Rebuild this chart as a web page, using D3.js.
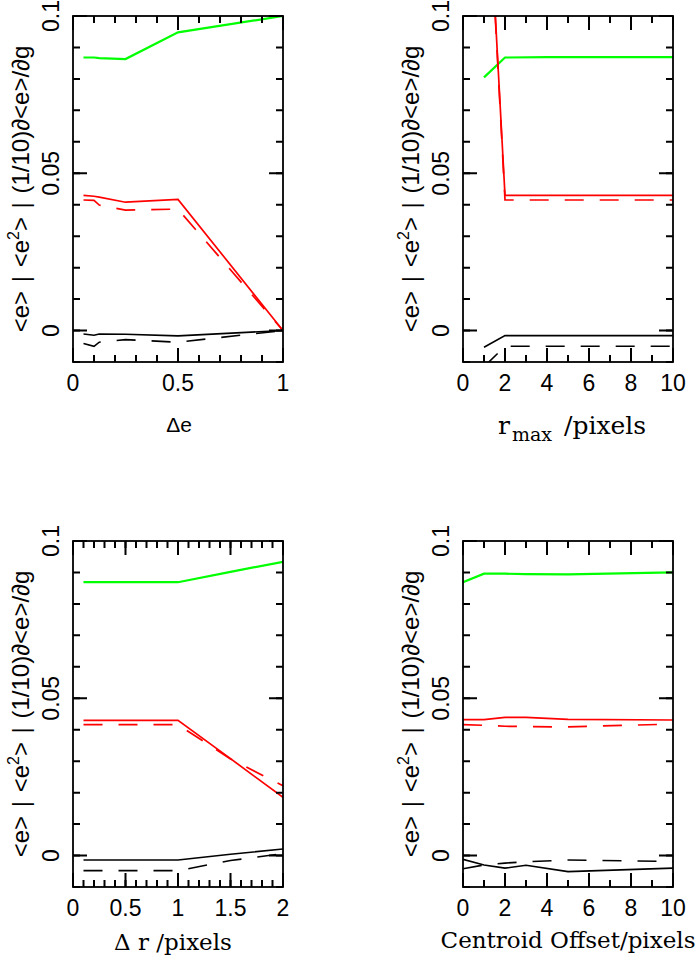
<!DOCTYPE html>
<meta charset="utf-8">
<script src="https://d3js.org/d3.v7.min.js"></script>
<style>
    body { margin: 0; background: #fff; }
</style>
<div id="chart"></div>
<script>

    // panel 1: delta e
    const deX = [0.05, 0.1, 0.125, 0.25, 0.5, 1];
    const deGreen = [0.0868, 0.0868, 0.0866, 0.0863, 0.0948, 0.1];
    const deRed = [0.0430, 0.0427, 0.0424, 0.0408, 0.0417, 0];
    const deRedDash = [0.0415, 0.0414, 0.0399, 0.0383, 0.0386, 0];
    const deBlack = [-0.0011, -0.0015, -0.0011, -0.0012, -0.0017, 0];
    const deBlackDash = [-0.0041, -0.0050, -0.0037, -0.0029, -0.0037, 0];
    const deTicks = [0, 0.5, 1];

    // panel 2: r_max
    const rmX = [1, 2, 4, 6, 8, 10];
    const rmGreen = [0.0805, 0.0868, 0.0869, 0.0869, 0.0869, 0.0869];
    const rmRed = [0.167, 0.0430, 0.0430, 0.0430, 0.0430, 0.0430];
    const rmRedDash = [0.167, 0.0415, 0.0415, 0.0415, 0.0415, 0.0415];
    const rmBlack = [-0.0053, -0.0016, -0.0016, -0.0016, -0.0016, -0.0016];
    const rmBlackDash = [-0.0115, -0.0050, -0.0050, -0.0050, -0.0050, -0.0050];
    const rmTicks = [0, 2, 4, 6, 8, 10];

    // panel 3: delta r
    const drX = [0.1, 0.25, 0.5, 1, 1.5, 2];
    const drGreen = [0.0869, 0.0869, 0.0869, 0.0869, 0.0902, 0.0934];
    const drRed = [0.0430, 0.0430, 0.0430, 0.0430, 0.0308, 0.0185];
    const drRedDash = [0.0416, 0.0416, 0.0416, 0.0416, 0.0307, 0.0222];
    const drBlack = [-0.0014, -0.0014, -0.0014, -0.0014, 0.0004, 0.0021];
    const drBlackDash = [-0.0048, -0.0048, -0.0048, -0.0048, -0.0016, 0.0006];
    const drTicks = [0, 0.5, 1, 1.5, 2];

    // panel 4: centroid offset
    const coX = [0, 1, 2, 3, 5, 10];
    const coGreen = [0.0869, 0.0896, 0.0896, 0.0895, 0.0894, 0.0900];
    const coRed = [0.0432, 0.0432, 0.0439, 0.0439, 0.0433, 0.0431];
    const coRedDash = [0.0416, 0.0414, 0.0411, 0.0410, 0.0409, 0.0418];
    const coBlack = [-0.0012, -0.0030, -0.0040, -0.0031, -0.0051, -0.0040];
    const coBlackDash = [-0.0042, -0.0030, -0.0024, -0.0020, -0.0014, -0.0019];
    const coTicks = [0, 2, 4, 6, 8, 10];

    // shared y axis
    const yDomain = [-0.01, 0.1];
    const yTicks = [0, 0.05, 0.1];

    const pw = 210, ph = 346;
    const sansFont = "'Liberation Sans', Arial, Helvetica, sans-serif";
    const serifFont = "'DejaVu Serif', serif";

    const svg = d3.select("#chart")
        .append("svg")
            .attr("width", 700)
            .attr("height", 966);

    const panels = [
        {id: "p1", left: 73, top: 16, xs: deX, domain: [0, 1], ticks: deTicks, minorStep: 0.1,
            series: [deGreen, deRed, deRedDash, deBlack, deBlackDash]},
        {id: "p2", left: 463, top: 16, xs: rmX, domain: [0, 10], ticks: rmTicks, minorStep: 1,
            series: [rmGreen, rmRed, rmRedDash, rmBlack, rmBlackDash]},
        {id: "p3", left: 73, top: 541, xs: drX, domain: [0, 2], ticks: drTicks, minorStep: 0.1,
            series: [drGreen, drRed, drRedDash, drBlack, drBlackDash]},
        {id: "p4", left: 463, top: 541, xs: coX, domain: [0, 10], ticks: coTicks, minorStep: 1,
            series: [coGreen, coRed, coRedDash, coBlack, coBlackDash]}
    ];

    // colour and dash for each series, same order in every panel
    const styles = [
        {colour: "#00ff00", dash: null, width: 2.2},
        {colour: "#ff0000", dash: null, width: 1.7},
        {colour: "#ff0000", dash: "19,16", width: 1.7},
        {colour: "#000000", dash: null, width: 1.6},
        {colour: "#000000", dash: "19,16", width: 1.6}
    ];

    const fmt = function(d) { return String(+d.toFixed(3)); };

    panels.forEach(function(p) {
        const g = svg.append("g")
            .attr("transform", "translate(" + p.left + "," + p.top + ")");

        const x = d3.scaleLinear().domain(p.domain).range([0, pw]);
        const y = d3.scaleLinear().domain(yDomain).range([ph, 0]);

        g.append("clipPath")
            .attr("id", "clip-" + p.id)
            .append("rect")
                .attr("width", pw)
                .attr("height", ph);

        // lines
        const line = d3.line()
            .x(function(d, i) { return x(p.xs[i]); })
            .y(function(d) { return y(d); });
        p.series.forEach(function(s, k) {
            g.append("path")
                .datum(s)
                .attr("clip-path", "url(#clip-" + p.id + ")")
                .attr("fill", "none")
                .attr("stroke", styles[k].colour)
                .attr("stroke-width", styles[k].width)
                .attr("stroke-dasharray", styles[k].dash)
                .attr("d", line);
        });

        // inward tick marks on all four sides, one path per set
        const minorX = d3.range(p.domain[0], p.domain[1] + 1e-9, p.minorStep);
        const minorY = d3.range(-0.01, 0.1 + 1e-9, 0.01);
        function tickPath(xVals, yVals, len) {
            let d = "";
            xVals.forEach(function(v) {
                d += "M" + x(v) + "," + ph + "v" + (-len);
                d += "M" + x(v) + ",0v" + len;
            });
            yVals.forEach(function(v) {
                d += "M0," + y(v) + "h" + len;
                d += "M" + pw + "," + y(v) + "h" + (-len);
            });
            g.append("path")
                .attr("d", d)
                .attr("fill", "none")
                .attr("stroke", "#000")
                .attr("stroke-width", 2);
        }
        tickPath(minorX, minorY, 7);
        tickPath(p.ticks, yTicks, 14);

        // x tick labels
        g.selectAll(".xlab")
            .data(p.ticks)
            .enter()
            .append("text")
                .attr("class", "xlab")
                .attr("x", function(d) { return x(d); })
                .attr("y", ph + 29)
                .attr("text-anchor", "middle")
                .attr("font-family", sansFont)
                .attr("font-size", 23)
                .text(fmt);

        // rotated y tick labels
        g.selectAll(".ylab")
            .data(yTicks)
            .enter()
            .append("text")
                .attr("class", "ylab")
                .attr("transform", function(d) { return "translate(-14," + y(d) + ")rotate(-90)"; })
                .attr("text-anchor", "middle")
                .attr("font-family", sansFont)
                .attr("font-size", 23)
                .text(fmt);

        // frame
        g.append("rect")
            .attr("width", pw)
            .attr("height", ph)
            .attr("fill", "none")
            .attr("stroke", "#000")
            .attr("stroke-width", 1.8);

        // y axis title
        const yt = g.append("text")
            .attr("transform", "translate(-44," + (ph / 2) + ")rotate(-90)")
            .attr("text-anchor", "middle")
            .attr("font-family", sansFont)
            .attr("font-size", 24)
            .attr("word-spacing", 2);
        yt.append("tspan").text("<e> | <e");
        yt.append("tspan").text("2").attr("font-size", 16).attr("dy", -10);
        yt.append("tspan").text("> | (1/10)\u2202<e>/\u2202g").attr("dy", 10);
    });

    // x axis titles
    svg.append("text")
        .attr("x", 179)
        .attr("y", 432)
        .attr("text-anchor", "middle")
        .attr("font-family", sansFont)
        .attr("font-size", 21)
        .text("\u0394e");

    const t2 = svg.append("text")
        .attr("x", 498)
        .attr("y", 434)
        .attr("font-family", serifFont)
        .attr("font-size", 25);
    t2.append("tspan").text("r");
    t2.append("tspan").text("max").attr("font-size", 19).attr("dy", 7).attr("dx", 2);
    t2.append("tspan").text(" /pixels").attr("dy", -7).attr("dx", 4);

    svg.append("text")
        .attr("x", 173)
        .attr("y", 950)
        .attr("text-anchor", "middle")
        .attr("font-family", serifFont)
        .attr("font-size", 23)
        .text("\u0394 r /pixels");

    svg.append("text")
        .attr("x", 568)
        .attr("y", 948)
        .attr("text-anchor", "middle")
        .attr("font-family", serifFont)
        .attr("font-size", 23)
        .text("Centroid Offset/pixels");

</script>
